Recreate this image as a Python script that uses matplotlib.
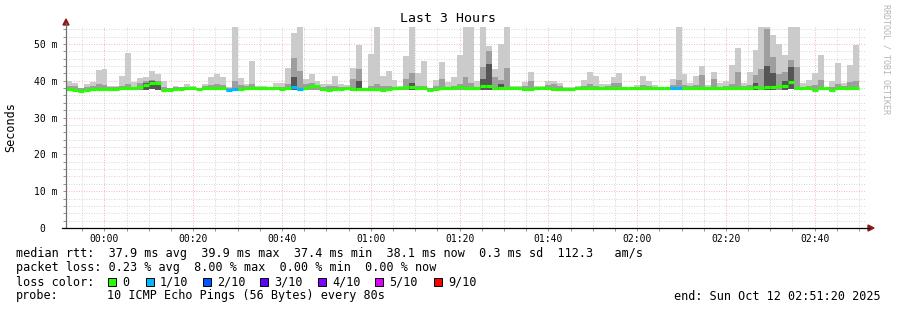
# smokeping style chart: last 3 hours
import numpy as np
import matplotlib.pyplot as plt
from matplotlib.patches import Polygon, Rectangle

# rtt per 80s step (ms)
rtt_max = [39.9, 39.4, 38.0, 39.2, 39.7, 43.0, 43.3, 38.6, 38.6, 41.3,
           47.6, 39.7, 40.8, 41.1, 42.7, 41.7, 40.0, 37.8, 38.7, 38.4,
           39.1, 38.7, 38.1, 39.1, 41.0, 41.9, 41.0, 38.4, 55.0, 40.8,
           39.1, 45.4, 38.7, 38.7, 38.4, 39.5, 39.5, 43.5, 53.0, 55.0,
           40.4, 41.9, 40.0, 39.0, 39.2, 41.3, 39.0, 38.8, 43.5, 49.8,
           38.1, 47.4, 55.0, 41.3, 42.7, 40.2, 38.5, 46.7, 55.0, 42.2,
           45.4, 38.1, 40.2, 45.1, 39.7, 41.0, 47.1, 55.0, 55.0, 40.0,
           55.0, 49.5, 43.3, 50.0, 55.0, 38.7, 38.5, 39.6, 42.3, 38.5,
           38.5, 39.8, 40.0, 39.5, 38.3, 38.3, 38.7, 40.2, 42.4, 41.3,
           39.0, 39.2, 41.0, 42.2, 38.4, 38.0, 38.8, 41.3, 40.0, 38.8,
           38.4, 38.0, 40.4, 55.0, 41.9, 39.5, 41.3, 44.0, 38.8, 42.5,
           39.5, 39.8, 44.2, 48.8, 39.5, 42.4, 48.3, 55.0, 55.0, 52.5,
           50.1, 46.9, 55.0, 55.0, 39.5, 40.2, 42.2, 47.1, 38.1, 39.9,
           44.7, 39.5, 44.4, 49.8]
rtt_mid = [38.7, 38.5, 37.9, 38.3, 38.5, 39.0, 38.8, 38.2, 38.2, 38.6,
           39.0, 38.4, 39.3, 40.0, 40.3, 40.0, 38.4, 37.9, 38.3, 38.2,
           38.4, 38.3, 38.0, 38.6, 38.8, 39.0, 38.8, 38.0, 39.8, 38.8,
           38.5, 39.2, 38.2, 38.4, 38.1, 38.3, 38.4, 39.0, 46.2, 42.7,
           39.0, 39.5, 38.6, 38.4, 38.6, 38.7, 38.4, 38.3, 40.5, 43.3,
           37.9, 38.6, 39.0, 38.6, 38.7, 38.4, 38.0, 40.5, 42.2, 38.6,
           38.7, 38.0, 38.6, 40.5, 38.4, 38.5, 39.0, 41.0, 39.5, 38.4,
           43.6, 48.0, 41.0, 40.2, 43.5, 38.2, 38.2, 38.6, 40.0, 38.0,
           38.1, 38.8, 39.0, 38.5, 37.9, 38.0, 38.2, 38.6, 39.0, 38.7,
           38.4, 38.6, 39.3, 39.5, 37.9, 37.8, 38.4, 38.8, 38.5, 38.3,
           38.1, 37.8, 38.8, 40.2, 38.8, 38.6, 38.8, 41.5, 38.2, 40.5,
           38.4, 38.5, 39.0, 42.5, 38.7, 38.8, 41.5, 43.3, 54.0, 46.5,
           41.9, 42.5, 45.5, 43.7, 38.4, 38.6, 38.8, 40.2, 37.9, 38.3,
           39.0, 38.5, 39.6, 40.0]
rtt_dark = [0, 0, 0, 0, 0, 0, 0, 0, 0, 0,
            0, 0, 0, 39.5, 39.8, 39.3, 0, 0, 0, 0,
            0, 0, 0, 0, 0, 0, 0, 0, 0, 0,
            0, 0, 0, 0, 0, 0, 0, 0, 41.0, 0,
            0, 0, 0, 0, 0, 0, 0, 0, 0, 40.0,
            0, 0, 0, 0, 0, 0, 0, 0, 39.5, 0,
            0, 0, 0, 0, 0, 0, 0, 0, 0, 0,
            40.5, 44.5, 0, 39.0, 0, 0, 0, 0, 0, 0,
            0, 0, 0, 0, 0, 0, 0, 0, 0, 0,
            0, 0, 0, 0, 0, 0, 0, 0, 0, 0,
            0, 0, 0, 0, 0, 0, 0, 0, 0, 0,
            0, 0, 0, 0, 0, 0, 39.5, 0, 44.0, 42.0,
            0, 40.0, 43.8, 0, 0, 0, 0, 0, 0, 0,
            0, 0, 0, 0]
rtt_med = [37.7, 37.5, 37.3, 37.6, 37.7, 37.8, 37.8, 37.8, 37.8, 37.9,
           37.9, 37.9, 38.4, 38.9, 39.3, 39.3, 37.6, 37.6, 37.7, 37.8,
           37.9, 37.9, 37.8, 37.9, 37.9, 37.9, 37.9, 37.6, 37.8, 37.8,
           37.9, 37.9, 37.9, 37.9, 37.9, 37.9, 37.8, 37.9, 38.2, 37.8,
           37.9, 38.6, 38.7, 37.7, 37.6, 37.7, 37.8, 37.9, 37.8, 37.7,
           37.7, 37.7, 37.7, 37.6, 37.8, 37.9, 37.9, 38.2, 38.4, 37.9,
           37.9, 37.6, 37.7, 38.0, 37.9, 37.9, 38.3, 38.1, 37.9, 37.9,
           38.6, 38.6, 38.0, 37.9, 37.9, 37.9, 37.9, 37.8, 37.8, 37.9,
           37.9, 37.9, 37.8, 37.7, 37.8, 37.7, 37.9, 37.9, 37.9, 38.0,
           38.0, 37.9, 37.9, 37.9, 37.9, 37.9, 37.9, 38.0, 38.0, 38.0,
           38.0, 38.0, 37.9, 37.9, 38.0, 37.9, 37.9, 37.9, 37.9, 37.9,
           38.0, 38.0, 38.0, 37.9, 38.0, 38.0, 38.2, 38.0, 38.4, 38.3,
           38.7, 38.5, 39.7, 38.0, 37.9, 37.9, 37.6, 37.9, 37.9, 37.5,
           38.1, 38.1, 38.1, 38.1]
rtt_min = [37.3, 37.1, 37.0, 37.2, 37.3, 37.4, 37.4, 37.4, 37.3, 37.4,
           37.4, 37.4, 37.5, 37.6, 37.7, 37.6, 37.2, 37.2, 37.3, 37.4,
           37.4, 37.4, 37.4, 37.4, 37.4, 37.4, 37.4, 37.2, 37.3, 37.3,
           37.4, 37.4, 37.4, 37.4, 37.5, 37.4, 37.4, 37.4, 37.5, 37.3,
           37.4, 37.5, 37.6, 37.3, 37.2, 37.3, 37.4, 37.4, 37.3, 37.3,
           37.3, 37.3, 37.3, 37.2, 37.3, 37.4, 37.4, 37.5, 37.5, 37.4,
           37.4, 37.2, 37.3, 37.4, 37.4, 37.4, 37.5, 37.5, 37.4, 37.4,
           37.5, 37.5, 37.5, 37.4, 37.4, 37.4, 37.4, 37.3, 37.3, 37.4,
           37.4, 37.4, 37.3, 37.3, 37.3, 37.2, 37.4, 37.4, 37.4, 37.5,
           37.5, 37.4, 37.4, 37.4, 37.4, 37.4, 37.4, 37.5, 37.5, 37.5,
           37.5, 37.5, 37.4, 37.4, 37.5, 37.4, 37.4, 37.4, 37.4, 37.4,
           37.5, 37.5, 37.5, 37.4, 37.5, 37.5, 37.5, 37.5, 37.5, 37.5,
           37.6, 37.5, 37.7, 37.5, 37.4, 37.4, 37.2, 37.4, 37.4, 37.1,
           37.6, 37.6, 37.6, 37.6]
# lost pings out of 10 per step
loss = [0] * 134
for i in (27, 28, 38, 39, 102, 103):
    loss[i] = 1

loss_labels = ['0', '1/10', '2/10', '3/10', '4/10', '5/10', '9/10']
loss_colors = ['#26ff00', '#00b8ff', '#0059ff', '#5e00ff', '#7e00ff', '#dd00ff', '#ff0000']
color_of = {0: '#26ff00', 1: '#00b8ff', 2: '#0059ff', 3: '#5e00ff', 4: '#7e00ff', 5: '#dd00ff'}

xtick_labels = ['00:00', '00:20', '00:40', '01:00', '01:20', '01:40', '02:00', '02:20', '02:40']

W, H = 897, 310
def fx(px): return px / W
def fy(py): return 1 - py / H

fig = plt.figure(figsize=(W / 100, H / 100), dpi=100)
ax = fig.add_axes([fx(66), fy(228), fx(865) - fx(66), fy(27) - fy(228)])

step = 80 / 60                      # minutes
t0 = -8 - 40 / 60                   # 23:51:20
n = len(rtt_max)
t = t0 + step * np.arange(n)
mx, mid, med, mn = map(np.array, (rtt_max, rtt_mid, rtt_med, rtt_min))
dark = np.array(rtt_dark, dtype=float)

ax.bar(t, mx - mn, bottom=mn, width=step, align='edge', color='#cbcbcb', lw=0, zorder=2)
ax.bar(t, mid - mn, bottom=mn, width=step, align='edge', color='#9e9e9e', lw=0, zorder=3)
m = dark > 0
ax.bar(t[m], dark[m] - mn[m], bottom=mn[m], width=step, align='edge', color='#555555', lw=0, zorder=4)
ax.hlines(med, t, t + step, colors=[color_of[l] for l in loss], lw=2.3, zorder=5)

ax.set_xlim(t0, t0 + 180)
ax.set_ylim(0, 54.6)
ax.set_xticks(np.arange(0, 161, 20))
ax.set_xticklabels(xtick_labels)
ax.set_xticks(np.arange(-5, 171, 5), minor=True)
ax.set_yticks(np.arange(0, 51, 10))
ax.set_yticklabels(['0  '] + ['%d m' % v for v in range(10, 51, 10)])
ax.set_yticks(np.arange(0, 55, 2), minor=True)
ax.grid(which='minor', color='#c8c8c8', linestyle=(0, (1, 2)), lw=0.6, zorder=1)
ax.grid(which='major', color='#f0a0a0', linestyle=(0, (1, 2)), lw=0.6, zorder=1)
ax.tick_params(which='both', length=2, width=0.6, color='#808080',
               labelsize=7, pad=4, labelfontfamily='DejaVu Sans Mono')
ax.tick_params(axis='x', pad=2)
for s in ('top', 'right', 'bottom', 'left'):
    ax.spines[s].set_visible(False)

# axes with arrow heads, in figure pixels
fig.add_artist(plt.Line2D([fx(66), fx(66)], [fy(228), fy(23)], color='#707070', lw=0.9))
fig.add_artist(plt.Line2D([fx(62), fx(869)], [fy(228), fy(228)], color='black', lw=0.9))
fig.add_artist(Polygon([[fx(63), fy(25)], [fx(69), fy(25)], [fx(66), fy(19)]], color='#8b1a1a'))
fig.add_artist(Polygon([[fx(868), fy(225)], [fx(868), fy(231)], [fx(874), fy(228)]], color='#8b1a1a'))

mono = 'DejaVu Sans Mono'
fig.text(fx(448), fy(19), 'Last 3 Hours', ha='center', va='center', family=mono, size=9.5)
fig.text(fx(11), fy(127), 'Seconds', rotation=90, ha='center', va='center', family=mono, size=8.5)
fig.text(fx(886), fy(4), 'RRDTOOL / TOBI OETIKER', rotation=270, ha='center', va='top',
         family=mono, size=6, color='#b4b4b4')

kw = dict(family=mono, size=8.5, va='center', ha='left')
fig.text(fx(16), fy(254), 'median rtt:  37.9 ms avg  39.9 ms max  37.4 ms min  '
         '38.1 ms now  0.3 ms sd  112.3   am/s', **kw)
fig.text(fx(16), fy(268), 'packet loss: 0.23 % avg  8.00 % max  0.00 % min  0.00 % now', **kw)
fig.text(fx(16), fy(282), 'loss color:', **kw)
box_x = [108, 146, 203, 260, 318, 375, 434]
for bx, lab, c in zip(box_x, loss_labels, loss_colors):
    fig.add_artist(Rectangle((fx(bx), fy(286)), 8 / W, 8 / H, facecolor=c,
                             edgecolor='black', lw=0.7))
    fig.text(fx(bx + 14), fy(282), lab, **kw)
fig.text(fx(16), fy(296), 'probe:', **kw)
fig.text(fx(107), fy(296), '10 ICMP Echo Pings (56 Bytes) every 80s', **kw)
fig.text(fx(881), fy(296), 'end: Sun Oct 12 02:51:20 2025', family=mono, size=8.5,
         va='center', ha='right')

fig.savefig('out.png', dpi=100)
